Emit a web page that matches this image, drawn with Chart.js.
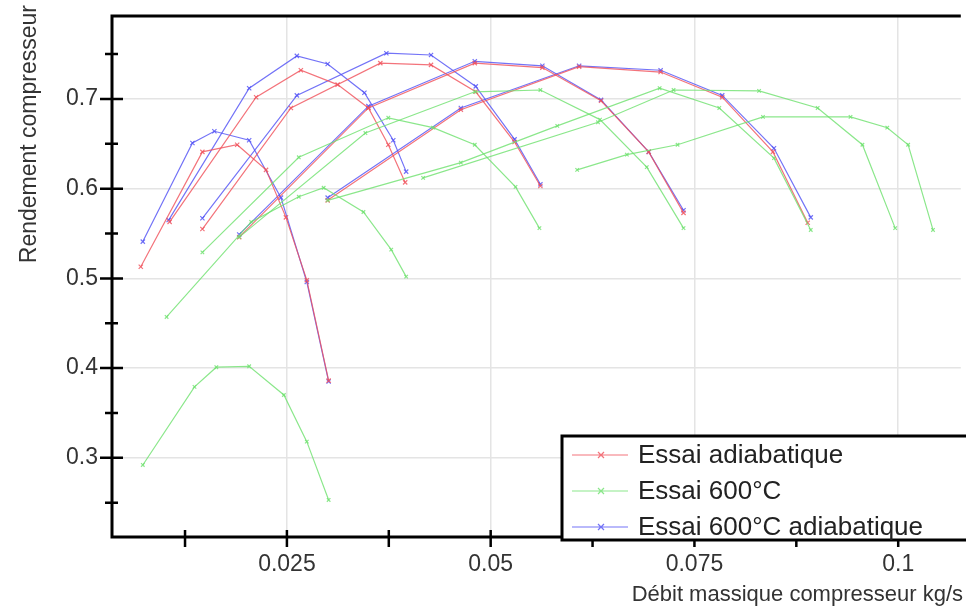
<!DOCTYPE html>
<html>
<head>
<meta charset="utf-8">
<script src="https://cdn.jsdelivr.net/npm/chart.js@4/dist/chart.umd.min.js"></script>
<style>
  html, body { margin: 0; padding: 0; background: #fff; }
  #wrap { width: 966px; height: 612px; }
</style>
</head>
<body>
<div id="wrap"><canvas id="chart"></canvas></div>
<script>
// Speed lines: mass flow (kg/s) and compressor efficiency.
// One inner array per speed line.
const seriesNames = ["Essai adiabatique", "Essai 600°C", "Essai 600°C adiabatique"];

const adiabFlow = [
    [0.00707, 0.01463, 0.01890, 0.02244, 0.02488, 0.02744, 0.03012],
    [0.01061, 0.02122, 0.02671, 0.03122, 0.03500, 0.03744, 0.03951],
    [0.01463, 0.02549, 0.03646, 0.04268, 0.04817, 0.05293, 0.05610],
    [0.01915, 0.03500, 0.04805, 0.05634, 0.06354, 0.06939, 0.07366],
    [0.03000, 0.04634, 0.06085, 0.07085, 0.07841, 0.08463, 0.08890]
];
const adiabEff = [
    [0.513, 0.641, 0.649, 0.621, 0.568, 0.498, 0.386],
    [0.563, 0.702, 0.732, 0.716, 0.690, 0.649, 0.607],
    [0.555, 0.690, 0.740, 0.738, 0.708, 0.652, 0.603],
    [0.546, 0.690, 0.740, 0.735, 0.698, 0.641, 0.573],
    [0.587, 0.688, 0.736, 0.730, 0.702, 0.641, 0.562]
];

const hotFlow = [
    [0.00732, 0.01366, 0.01634, 0.02037, 0.02463, 0.02744, 0.03012],
    [0.01024, 0.02061, 0.02646, 0.02951, 0.03439, 0.03780, 0.03963],
    [0.01463, 0.02646, 0.03744, 0.04293, 0.04805, 0.05305, 0.05598],
    [0.01915, 0.03463, 0.04805, 0.05610, 0.06341, 0.06915, 0.07366],
    [0.03000, 0.04634, 0.05817, 0.07073, 0.07805, 0.08476, 0.08927],
    [0.04171, 0.06317, 0.07244, 0.08293, 0.09012, 0.09561, 0.09963],
    [0.06061, 0.06671, 0.07293, 0.08341, 0.09415, 0.09866, 0.10122, 0.10427]
];
const hotEff = [
    [0.292, 0.379, 0.401, 0.402, 0.370, 0.318, 0.253],
    [0.457, 0.563, 0.591, 0.601, 0.574, 0.532, 0.502],
    [0.529, 0.635, 0.679, 0.668, 0.649, 0.602, 0.556],
    [0.546, 0.662, 0.708, 0.710, 0.677, 0.624, 0.556],
    [0.587, 0.629, 0.670, 0.712, 0.690, 0.634, 0.554],
    [0.612, 0.674, 0.710, 0.709, 0.690, 0.649, 0.556],
    [0.621, 0.638, 0.649, 0.680, 0.680, 0.668, 0.649, 0.554]
];

const hotAdiabFlow = [
    [0.00732, 0.01341, 0.01610, 0.02037, 0.02427, 0.02744, 0.03012],
    [0.01049, 0.02037, 0.02622, 0.03000, 0.03451, 0.03805, 0.03963],
    [0.01463, 0.02622, 0.03720, 0.04268, 0.04817, 0.05293, 0.05610],
    [0.01915, 0.03500, 0.04805, 0.05634, 0.06354, 0.06939, 0.07366],
    [0.03000, 0.04634, 0.06085, 0.07085, 0.07841, 0.08476, 0.08927]
];
const hotAdiabEff = [
    [0.541, 0.651, 0.664, 0.654, 0.590, 0.496, 0.385],
    [0.565, 0.712, 0.748, 0.739, 0.707, 0.654, 0.619],
    [0.567, 0.704, 0.751, 0.749, 0.714, 0.655, 0.605],
    [0.549, 0.692, 0.742, 0.737, 0.699, 0.641, 0.576],
    [0.590, 0.690, 0.737, 0.732, 0.704, 0.645, 0.568]
];

// tick values (minor ones carry no label)
const xTicks = [0.0125, 0.025, 0.0375, 0.05, 0.0625, 0.075, 0.0875, 0.1];
const xLabels = {0.025: "0.025", 0.05: "0.05", 0.075: "0.075", 0.1: "0.1"};
const yTicks = [0.25, 0.3, 0.35, 0.4, 0.45, 0.5, 0.55, 0.6, 0.65, 0.7, 0.75];
const yLabels = {0.3: "0.3", 0.4: "0.4", 0.5: "0.5", 0.6: "0.6", 0.7: "0.7"};

const colors = ["rgba(240,80,90,0.8)", "rgba(110,225,110,0.8)", "rgba(80,80,245,0.8)"];
const FONT = "'Liberation Sans', Arial, sans-serif";

function isMajor(v, list) {
    return list.some(t => Math.abs(t - v) < 1e-6);
}

function makeSets(flow, eff, color, radius) {
    return flow.map((line, i) => ({
        data: line.map((x, j) => ({x: x, y: eff[i][j]})),
        borderColor: color,
        backgroundColor: color,
        borderWidth: 1.2,
        pointStyle: 'crossRot',
        pointRadius: radius,
        pointBorderWidth: 1.2,
        showLine: true,
        fill: false,
        tension: 0
    }));
}

let datasets = [];
datasets = datasets.concat(makeSets(hotFlow, hotEff, colors[1], 2.5));
datasets = datasets.concat(makeSets(adiabFlow, adiabEff, colors[0], 3));
datasets = datasets.concat(makeSets(hotAdiabFlow, hotAdiabEff, colors[2], 3));

// frame, tick marks, axis titles and legend box
const framePlugin = {
    id: 'frame',
    afterDraw(chart) {
        const ctx = chart.ctx;
        const a = chart.chartArea;
        const sx = chart.scales.x, sy = chart.scales.y;
        ctx.save();
        ctx.strokeStyle = '#000';
        ctx.lineCap = 'butt';

        // top, left and bottom lines
        ctx.lineWidth = 3;
        ctx.beginPath();
        ctx.moveTo(a.left, a.top); ctx.lineTo(a.right, a.top);
        ctx.moveTo(a.left, a.top - 1.5); ctx.lineTo(a.left, a.bottom + 1.5);
        ctx.moveTo(a.left, a.bottom); ctx.lineTo(a.right, a.bottom);
        ctx.stroke();

        // tick marks
        ctx.lineWidth = 2.5;
        ctx.beginPath();
        yTicks.forEach(v => {
            const y = sy.getPixelForValue(v);
            const big = isMajor(v, [0.3, 0.4, 0.5, 0.6, 0.7]);
            ctx.moveTo(a.left - (big ? 12 : 7), y);
            ctx.lineTo(a.left + (big ? 11 : 6), y);
        });
        xTicks.forEach(v => {
            const x = sx.getPixelForValue(v);
            ctx.moveTo(x, a.bottom - 7);
            ctx.lineTo(x, a.bottom + 10);
        });
        ctx.stroke();

        // axis titles
        ctx.fillStyle = '#333';
        ctx.font = '22px ' + FONT;
        ctx.textAlign = 'right';
        ctx.textBaseline = 'middle';
        ctx.fillText('Débit massique compresseur kg/s', 963, 595);
        ctx.save();
        ctx.font = '23px ' + FONT;
        ctx.translate(30, 5);
        ctx.rotate(-Math.PI / 2);
        ctx.textAlign = 'right';
        ctx.fillText('Rendement compresseur', 0, 0);
        ctx.restore();

        // legend
        const lx = 562, ly = 436;
        ctx.fillStyle = '#fff';
        ctx.fillRect(lx, ly, 420, 104);
        ctx.lineWidth = 3;
        ctx.strokeStyle = '#000';
        ctx.strokeRect(lx, ly, 420, 104);
        ctx.font = '26px ' + FONT;
        ctx.textAlign = 'left';
        ctx.textBaseline = 'middle';
        seriesNames.forEach((name, i) => {
            const y = 455 + i * 36;
            ctx.strokeStyle = colors[i];
            ctx.lineWidth = 1.2;
            ctx.beginPath();
            ctx.moveTo(572, y); ctx.lineTo(628, y);
            ctx.moveTo(598, y - 3); ctx.lineTo(604, y + 3);
            ctx.moveTo(598, y + 3); ctx.lineTo(604, y - 3);
            ctx.stroke();
            ctx.fillStyle = '#222';
            ctx.fillText(name, 638, y + 1);
        });
        ctx.restore();
    }
};

new Chart(document.getElementById('chart'), {
    type: 'scatter',
    data: {datasets: datasets},
    options: {
        responsive: true,
        maintainAspectRatio: false,
        animation: false,
        layout: {padding: {top: 16, right: 0, left: 0, bottom: 0}},
        plugins: {
            legend: {display: false},
            tooltip: {enabled: false}
        },
        scales: {
            x: {
                type: 'linear',
                min: 0.00354,
                max: 0.10768,
                afterBuildTicks: axis => { axis.ticks = xTicks.map(v => ({value: v})); },
                afterFit: axis => {
                    axis.height = 75;
                    axis.paddingLeft = 0;
                    axis.paddingRight = 0;
                },
                border: {display: false},
                grid: {
                    drawTicks: false,
                    lineWidth: 1.5,
                    color: c => (c.tick && isMajor(c.tick.value, [0.025, 0.05, 0.075, 0.1])) ? '#e4e4e4' : 'rgba(0,0,0,0)'
                },
                ticks: {
                    autoSkip: false,
                    maxRotation: 0,
                    padding: 14,
                    color: '#333',
                    font: {family: FONT, size: 23},
                    callback: v => {
                        const k = Object.keys(xLabels).find(t => Math.abs(Number(t) - v) < 1e-6);
                        return k ? xLabels[k] : '';
                    }
                }
            },
            y: {
                type: 'linear',
                min: 0.2117,
                max: 0.7925,
                afterBuildTicks: axis => { axis.ticks = yTicks.map(v => ({value: v})); },
                afterFit: axis => {
                    axis.width = 112;
                    axis.paddingTop = 0;
                    axis.paddingBottom = 0;
                },
                border: {display: false},
                grid: {
                    drawTicks: false,
                    lineWidth: 1.5,
                    color: c => (c.tick && isMajor(c.tick.value, [0.3, 0.4, 0.5, 0.6, 0.7])) ? '#e4e4e4' : 'rgba(0,0,0,0)'
                },
                ticks: {
                    autoSkip: false,
                    padding: 14,
                    color: '#333',
                    font: {family: FONT, size: 23},
                    callback: v => {
                        const k = Object.keys(yLabels).find(t => Math.abs(Number(t) - v) < 1e-6);
                        return k ? yLabels[k] : '';
                    }
                }
            }
        }
    },
    plugins: [framePlugin]
});
</script>
</body>
</html>
